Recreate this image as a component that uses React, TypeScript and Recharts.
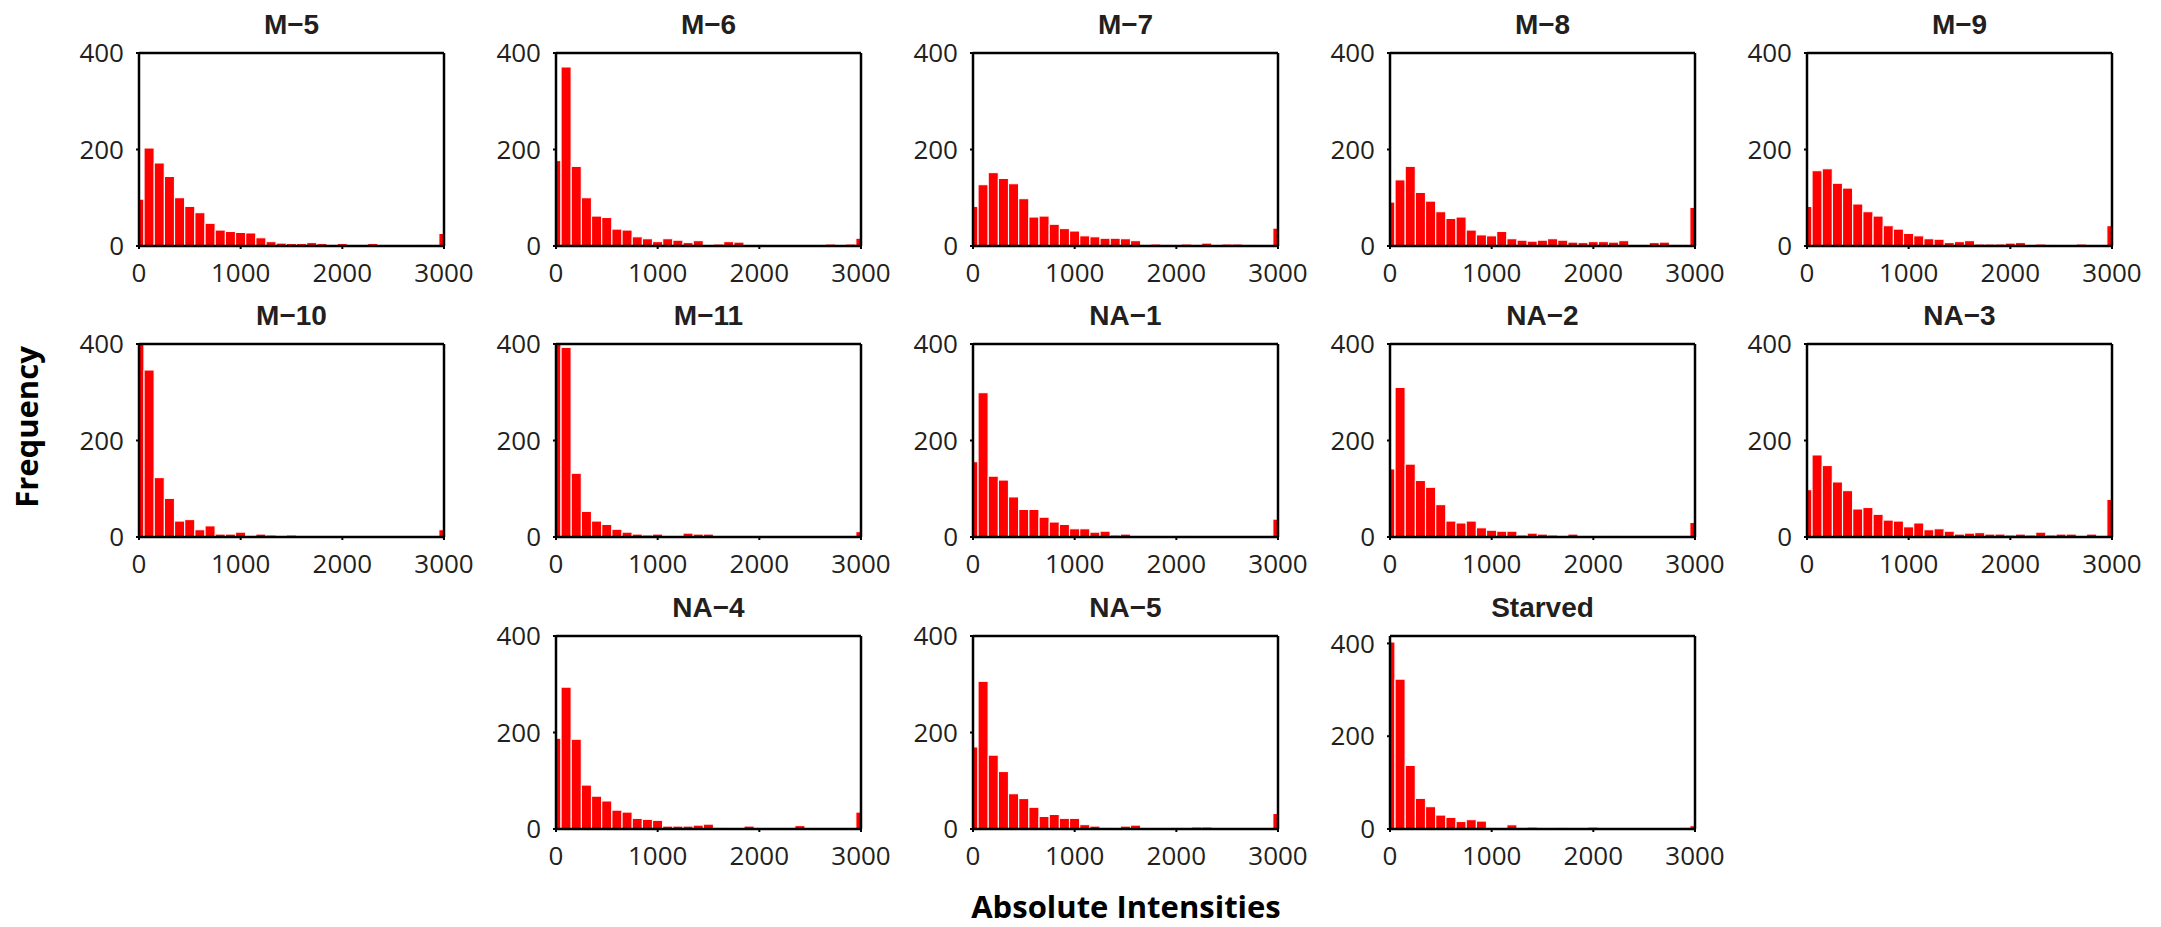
import React from 'react';
import { BarChart, Bar, XAxis, YAxis } from 'recharts';

// ---------- data ----------
const BIN_CENTERS = [0, 100, 200, 300, 400, 500, 600, 700, 800, 900, 1000, 1100, 1200, 1300, 1400, 1500, 1600, 1700, 1800, 1900, 2000, 2100, 2200, 2300, 2400, 2500, 2600, 2700, 2800, 2900, 3000];
const X_TICKS = [0, 1000, 2000, 3000];
const Y_TICKS = [0, 200, 400];

const M5 = [97, 203, 172, 144, 100, 82, 69, 47, 33, 30, 28, 27, 17, 9, 6, 5, 5, 7, 5, 3, 5, 2, 3, 5, 2, 3, 1, 1, 3, 1, 26];
const M6 = [177, 371, 165, 100, 62, 59, 35, 33, 19, 15, 9, 15, 12, 7, 11, 2, 4, 9, 8, 1, 3, 1, 1, 1, 1, 2, 1, 4, 1, 4, 16];
const M7 = [82, 127, 152, 140, 129, 98, 60, 62, 45, 36, 31, 21, 19, 16, 16, 15, 11, 3, 4, 3, 3, 4, 3, 6, 1, 4, 4, 3, 1, 2, 37];
const M8 = [91, 137, 165, 111, 93, 71, 57, 60, 33, 23, 21, 30, 15, 12, 10, 12, 15, 12, 8, 7, 9, 9, 8, 11, 2, 3, 7, 8, 3, 1, 80];
const M9 = [82, 156, 160, 130, 120, 87, 71, 62, 42, 35, 26, 21, 15, 14, 7, 9, 11, 4, 4, 4, 6, 7, 1, 4, 3, 1, 1, 4, 1, 1, 42];
const M10 = [410, 346, 123, 80, 33, 36, 15, 23, 6, 6, 10, 3, 6, 4, 2, 4, 1, 1, 1, 2, 0, 2, 1, 1, 1, 2, 1, 1, 1, 1, 15];
const M11 = [420, 393, 132, 53, 33, 26, 16, 10, 6, 4, 6, 2, 2, 8, 6, 6, 0, 2, 1, 1, 1, 1, 2, 1, 1, 2, 1, 1, 1, 1, 11];
const NA1 = [156, 299, 126, 118, 83, 57, 57, 41, 31, 26, 17, 17, 10, 12, 4, 6, 3, 3, 3, 1, 1, 3, 1, 1, 1, 2, 1, 1, 1, 1, 37];
const NA2 = [141, 310, 151, 117, 103, 67, 33, 29, 33, 19, 14, 12, 12, 4, 8, 6, 4, 2, 6, 1, 2, 3, 3, 1, 1, 1, 1, 1, 1, 1, 30];
const NA3 = [98, 170, 148, 114, 96, 58, 61, 47, 35, 33, 21, 29, 15, 17, 12, 6, 8, 9, 6, 6, 4, 6, 4, 10, 4, 6, 6, 1, 6, 3, 78];
const NA4 = [188, 294, 186, 91, 68, 58, 39, 35, 22, 20, 18, 6, 6, 6, 8, 10, 3, 2, 2, 6, 2, 1, 1, 2, 7, 2, 1, 1, 1, 1, 35];
const NA5 = [170, 306, 153, 119, 73, 63, 45, 26, 30, 22, 22, 9, 6, 3, 1, 6, 8, 2, 1, 1, 3, 2, 4, 4, 1, 1, 1, 1, 1, 1, 32];
const STARVED = [403, 323, 137, 66, 48, 30, 25, 16, 20, 17, 1, 1, 9, 1, 4, 2, 2, 3, 1, 2, 4, 1, 1, 1, 1, 2, 1, 1, 1, 3, 7];

const PANEL_TITLES = ['M\u22125', 'M\u22126', 'M\u22127', 'M\u22128', 'M\u22129', 'M\u221210', 'M\u221211', 'NA\u22121', 'NA\u22122', 'NA\u22123', 'NA\u22124', 'NA\u22125', 'Starved'];
const PANEL_VALUES = [M5, M6, M7, M8, M9, M10, M11, NA1, NA2, NA3, NA4, NA5, STARVED];
const PANEL_YMAX = [400, 400, 400, 400, 400, 400, 400, 400, 400, 400, 400, 400, 416];
const PANEL_ROW = [0, 0, 0, 0, 0, 1, 1, 1, 1, 1, 2, 2, 2];
const PANEL_COL = [0, 1, 2, 3, 4, 0, 1, 2, 3, 4, 1, 2, 3];

// ---------- layout ----------
const COL_LEFT = [139, 556, 973, 1390, 1807];
const ROW_TOP = [53, 344, 636];
const PLOT_W = 305;
const PLOT_H = 193;
const AXIS_L = 60;
const AXIS_R = 4;
const AXIS_T = 4;
const AXIS_B = 45;
const EXTRA_R = 40;
const EXTRA_T = 20;

const TEXT_COLOR = '#231f20';
const TICK_FONT = { fill: TEXT_COLOR, fontSize: 26, fontFamily: "'Open Sans', sans-serif" };
const AXIS_LINE = { stroke: '#000', strokeWidth: 2.5 };
const TICK_LINE = { stroke: '#000', strokeWidth: 2 };

function Panel({ title, values, yMax, left, top }: { title: string; values: number[]; yMax: number; left: number; top: number }) {
  const data = BIN_CENTERS.map((x, i) => ({ x, count: values[i] }));
  return (
    <>
      <div
        style={{
          position: 'absolute',
          left: left + PLOT_W / 2 - 150,
          width: 300,
          top: top - 28 - 18,
          height: 36,
          lineHeight: '36px',
          textAlign: 'center',
          fontFamily: "'Liberation Sans', Arial, sans-serif",
          fontWeight: 'bold',
          fontSize: 28,
          color: TEXT_COLOR,
        }}
      >
        {title}
      </div>
      <div style={{ position: 'absolute', left: left - AXIS_L, top: top - AXIS_T - EXTRA_T }}>
        <BarChart
          width={AXIS_L + PLOT_W + AXIS_R + EXTRA_R}
          height={EXTRA_T + AXIS_T + PLOT_H + AXIS_B}
          data={data}
          margin={{ top: EXTRA_T, right: EXTRA_R, bottom: 0, left: 0 }}
          barCategoryGap={0}
          barGap={0}
        >
          <Bar dataKey="count" fill="#ff0000" stroke="#ffffff" strokeWidth={1} isAnimationActive={false} />
          <XAxis
            dataKey="x"
            type="number"
            domain={[0, 3000]}
            allowDataOverflow
            ticks={X_TICKS}
            interval={0}
            height={AXIS_B}
            tickSize={3}
            tickMargin={15}
            axisLine={AXIS_LINE}
            tickLine={TICK_LINE}
            tick={TICK_FONT}
          />
          <XAxis
            xAxisId="top"
            orientation="top"
            type="number"
            domain={[0, 3000]}
            allowDataOverflow
            ticks={X_TICKS}
            interval={0}
            height={AXIS_T}
            tickSize={3}
            axisLine={AXIS_LINE}
            tickLine={TICK_LINE}
            tick={false}
          />
          <YAxis
            type="number"
            domain={[0, yMax]}
            allowDataOverflow
            ticks={Y_TICKS}
            interval={0}
            width={AXIS_L}
            tickSize={3}
            tickMargin={12}
            axisLine={AXIS_LINE}
            tickLine={TICK_LINE}
            tick={TICK_FONT}
          />
          <YAxis
            yAxisId="right"
            orientation="right"
            type="number"
            domain={[0, yMax]}
            allowDataOverflow
            ticks={Y_TICKS}
            interval={0}
            width={AXIS_R}
            tickSize={3}
            axisLine={AXIS_LINE}
            tickLine={TICK_LINE}
            tick={false}
          />
        </BarChart>
      </div>
    </>
  );
}

export default function App() {
  return (
    <div style={{ position: 'absolute', left: 0, top: 0, width: 2161, height: 927, background: '#fff', overflow: 'hidden' }}>
      {PANEL_TITLES.map((t, i) => (
        <Panel
          key={t}
          title={t}
          values={PANEL_VALUES[i]}
          yMax={PANEL_YMAX[i]}
          left={COL_LEFT[PANEL_COL[i]]}
          top={ROW_TOP[PANEL_ROW[i]]}
        />
      ))}
      <div
        style={{
          position: 'absolute',
          left: 1126 - 300,
          width: 600,
          top: 906 - 17,
          height: 34,
          lineHeight: '34px',
          textAlign: 'center',
          fontFamily: "'Open Sans', sans-serif",
          fontWeight: 'bold',
          fontSize: 31,
          color: '#000',
        }}
      >
        Absolute Intensities
      </div>
      <div
        style={{
          position: 'absolute',
          left: 26 - 150,
          width: 300,
          top: 427 - 22,
          height: 44,
          lineHeight: '44px',
          textAlign: 'center',
          fontFamily: "'Open Sans', sans-serif",
          fontWeight: 'bold',
          fontSize: 31,
          color: '#000',
          transform: 'rotate(-90deg)',
        }}
      >
        Frequency
      </div>
    </div>
  );
}
